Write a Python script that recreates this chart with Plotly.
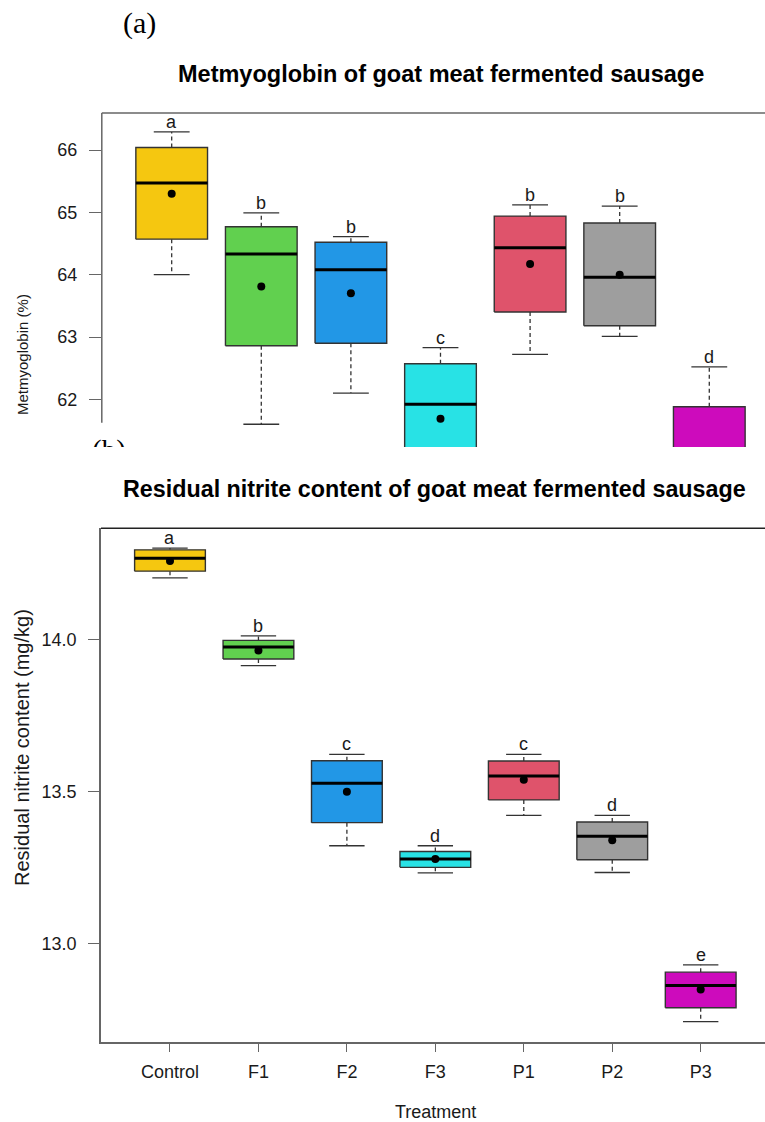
import plotly.graph_objects as go

W, H = 765, 1122

def px(x):
    return x / W

def py(y):
    return 1 - y / H

treatments = ["Control", "F1", "F2", "F3", "P1", "P2", "P3"]
colors = ["#F5C710", "#61D04F", "#2297E6", "#28E2E5", "#DF536B", "#9E9E9E", "#CD0BBC"]

# Panel (a): Metmyoglobin (%)
met_upper = [66.29, 64.99, 64.61, 62.83, 65.12, 65.10, 62.52]
met_q3 = [66.04, 64.77, 64.52, 62.57, 64.94, 64.83, 61.88]
met_median = [65.47, 64.33, 64.08, 61.92, 64.43, 63.96, 61.10]
met_mean = [65.30, 63.81, 63.70, 61.69, 64.17, 64.00, 61.05]
met_q1 = [64.57, 62.86, 62.90, 61.00, 63.40, 63.18, 60.70]
met_lower = [64.00, 61.60, 62.10, 60.60, 62.72, 63.01, 60.40]
met_letters = ["a", "b", "b", "c", "b", "b", "d"]
met_ticks = [62, 63, 64, 65, 66]

# Panel (b): Residual nitrite content (mg/kg)
nit_upper = [14.301, 14.012, 13.622, 13.321, 13.622, 13.421, 12.929]
nit_q3 = [14.295, 13.997, 13.601, 13.302, 13.600, 13.399, 12.905]
nit_median = [14.267, 13.975, 13.527, 13.277, 13.551, 13.352, 12.861]
nit_mean = [14.258, 13.964, 13.499, 13.277, 13.538, 13.339, 12.848]
nit_q1 = [14.225, 13.936, 13.397, 13.250, 13.472, 13.275, 12.788]
nit_lower = [14.203, 13.914, 13.321, 13.232, 13.421, 13.233, 12.742]
nit_letters = ["a", "b", "c", "d", "c", "d", "e"]
nit_ticks = [13.0, 13.5, 14.0]

SANS = "Liberation Sans, Arial, sans-serif"
SERIF = "Liberation Serif, Times New Roman, serif"
TXT = "#1a1a1a"
EDGE = "#333333"
AXC = "#666666"

fig = go.Figure()
annotations = []


def add_panel(xa, ya, upper, q3, med, mean, q1, lower, letters, letter_size):
    for i in range(len(treatments)):
        p = i + 1
        # whiskers (dashed)
        fig.add_trace(go.Scatter(
            x=[p, p, None, p, p], y=[q3[i], upper[i], None, q1[i], lower[i]],
            mode="lines", line=dict(color=EDGE, width=1.3, dash="4px,3px"),
            xaxis=xa, yaxis=ya, hoverinfo="skip", showlegend=False))
        # staples
        fig.add_trace(go.Scatter(
            x=[p - 0.2, p + 0.2, None, p - 0.2, p + 0.2],
            y=[upper[i], upper[i], None, lower[i], lower[i]],
            mode="lines", line=dict(color=EDGE, width=1.3),
            xaxis=xa, yaxis=ya, hoverinfo="skip", showlegend=False))
        # box
        fig.add_trace(go.Scatter(
            x=[p - 0.4, p + 0.4, p + 0.4, p - 0.4, p - 0.4],
            y=[q1[i], q1[i], q3[i], q3[i], q1[i]],
            mode="lines", fill="toself", fillcolor=colors[i],
            line=dict(color=EDGE, width=1.4),
            xaxis=xa, yaxis=ya, hoverinfo="skip", showlegend=False))
        # median
        fig.add_trace(go.Scatter(
            x=[p - 0.4, p + 0.4], y=[med[i], med[i]],
            mode="lines", line=dict(color="black", width=3),
            xaxis=xa, yaxis=ya, hoverinfo="skip", showlegend=False))
        # mean
        fig.add_trace(go.Scatter(
            x=[p], y=[mean[i]], mode="markers",
            marker=dict(color="black", size=8),
            xaxis=xa, yaxis=ya, hoverinfo="skip", showlegend=False))
        annotations.append(dict(
            x=p, y=upper[i], xref=xa, yref=ya, text=letters[i], showarrow=False,
            yanchor="middle", xanchor="center", yshift=10,
            font=dict(family=SANS, size=letter_size, color=TXT)))


add_panel("x", "y", met_upper, met_q3, met_median, met_mean, met_q1, met_lower, met_letters, 18)
add_panel("x2", "y2", nit_upper, nit_q3, nit_median, nit_mean, nit_q1, nit_lower, nit_letters, 18)

# partially hidden "(b)" label (clipped by its own invisible subplot)
fig.add_trace(go.Scatter(
    x=[109], y=[438], mode="text", text=["(b)"], textposition="bottom center",
    textfont=dict(family=SERIF, size=29, color="black"), cliponaxis=True,
    xaxis="x3", yaxis="y3", hoverinfo="skip", showlegend=False))

# text annotations
annotations += [
    dict(x=px(139), y=py(23), xref="paper", yref="paper", text="(a)", showarrow=False,
         xanchor="center", yanchor="middle", font=dict(family=SERIF, size=30, color="black")),
    dict(x=px(441), y=py(74), xref="paper", yref="paper",
         text="<b>Metmyoglobin of goat meat fermented sausage</b>", showarrow=False,
         xanchor="center", yanchor="middle", font=dict(family=SANS, size=23.5, color="black")),
    dict(x=px(434.5), y=py(489), xref="paper", yref="paper",
         text="<b>Residual nitrite content of goat meat fermented sausage</b>", showarrow=False,
         xanchor="center", yanchor="middle", font=dict(family=SANS, size=23.3, color="black")),
    dict(x=px(22), y=py(355), xref="paper", yref="paper", text="Metmyoglobin (%)",
         showarrow=False, textangle=-90, xanchor="center", yanchor="middle",
         font=dict(family=SANS, size=15, color=TXT)),
    dict(x=px(22), y=py(748), xref="paper", yref="paper", text="Residual nitrite content (mg/kg)",
         showarrow=False, textangle=-90, xanchor="center", yanchor="middle",
         font=dict(family=SANS, size=20, color=TXT)),
    dict(x=px(435.5), y=py(1112), xref="paper", yref="paper", text="Treatment",
         showarrow=False, xanchor="center", yanchor="middle",
         font=dict(family=SANS, size=18, color=TXT)),
]

shapes = [
    # top panel frame (top and truncated left side)
    dict(type="line", xref="paper", yref="paper", x0=px(101.8), x1=1, y0=py(113), y1=py(113),
         line=dict(color=AXC, width=1.5)),
    dict(type="line", xref="paper", yref="paper", x0=px(101.8), x1=px(101.8), y0=py(113), y1=py(422.7),
         line=dict(color=AXC, width=1.5)),
    # bottom panel top frame line
    dict(type="line", xref="paper", yref="paper", x0=px(101), x1=1, y0=py(528.3), y1=py(528.3),
         line=dict(color="#222222", width=1.5)),
]

fig.update_layout(
    width=W, height=H, margin=dict(l=0, r=0, t=0, b=0),
    paper_bgcolor="white", plot_bgcolor="rgba(0,0,0,0)", showlegend=False,
    annotations=annotations, shapes=shapes,
    xaxis=dict(domain=[px(101.8), 1], range=[0.22, 0.22 + (765 - 101.8) / 89.6],
               visible=False, fixedrange=True),
    yaxis=dict(domain=[py(447), py(113)], range=[61.235, 66.594],
               tickvals=met_ticks, ticktext=[str(v) for v in met_ticks],
               ticks="outside", ticklen=12, tickwidth=1.3, tickcolor=AXC,
               showline=False, showgrid=False, zeroline=False, ticklabelstandoff=8,
               tickfont=dict(family=SANS, size=18, color=TXT)),
    xaxis2=dict(domain=[px(101), 1], range=[0.22, 0.22 + (765 - 101) / 88.45], anchor="y2",
                tickvals=list(range(1, 8)), ticktext=treatments,
                ticks="outside", ticklen=9, tickwidth=1.3, tickcolor=AXC,
                showline=True, linecolor=AXC, linewidth=1.5,
                showgrid=False, zeroline=False, ticklabelstandoff=4,
                tickfont=dict(family=SANS, size=18, color=TXT)),
    yaxis2=dict(domain=[py(1041.7), py(528.3)], range=[12.676, 14.366], anchor="x2",
                tickvals=nit_ticks, ticktext=["13.0", "13.5", "14.0"],
                ticks="outside", ticklen=11, tickwidth=1.3, tickcolor=AXC,
                showline=True, linecolor=AXC, linewidth=1.5,
                showgrid=False, zeroline=False, ticklabelstandoff=8,
                tickfont=dict(family=SANS, size=18, color=TXT)),
    xaxis3=dict(domain=[0, 1], range=[0, W], visible=False, anchor="y3", fixedrange=True),
    yaxis3=dict(domain=[py(447), py(428)], range=[447, 428], visible=False, anchor="x3",
                fixedrange=True),
)

fig.write_html("out.html", config={"displayModeBar": False},
               post_script="document.body.style.margin='0';document.body.style.padding='0';")
